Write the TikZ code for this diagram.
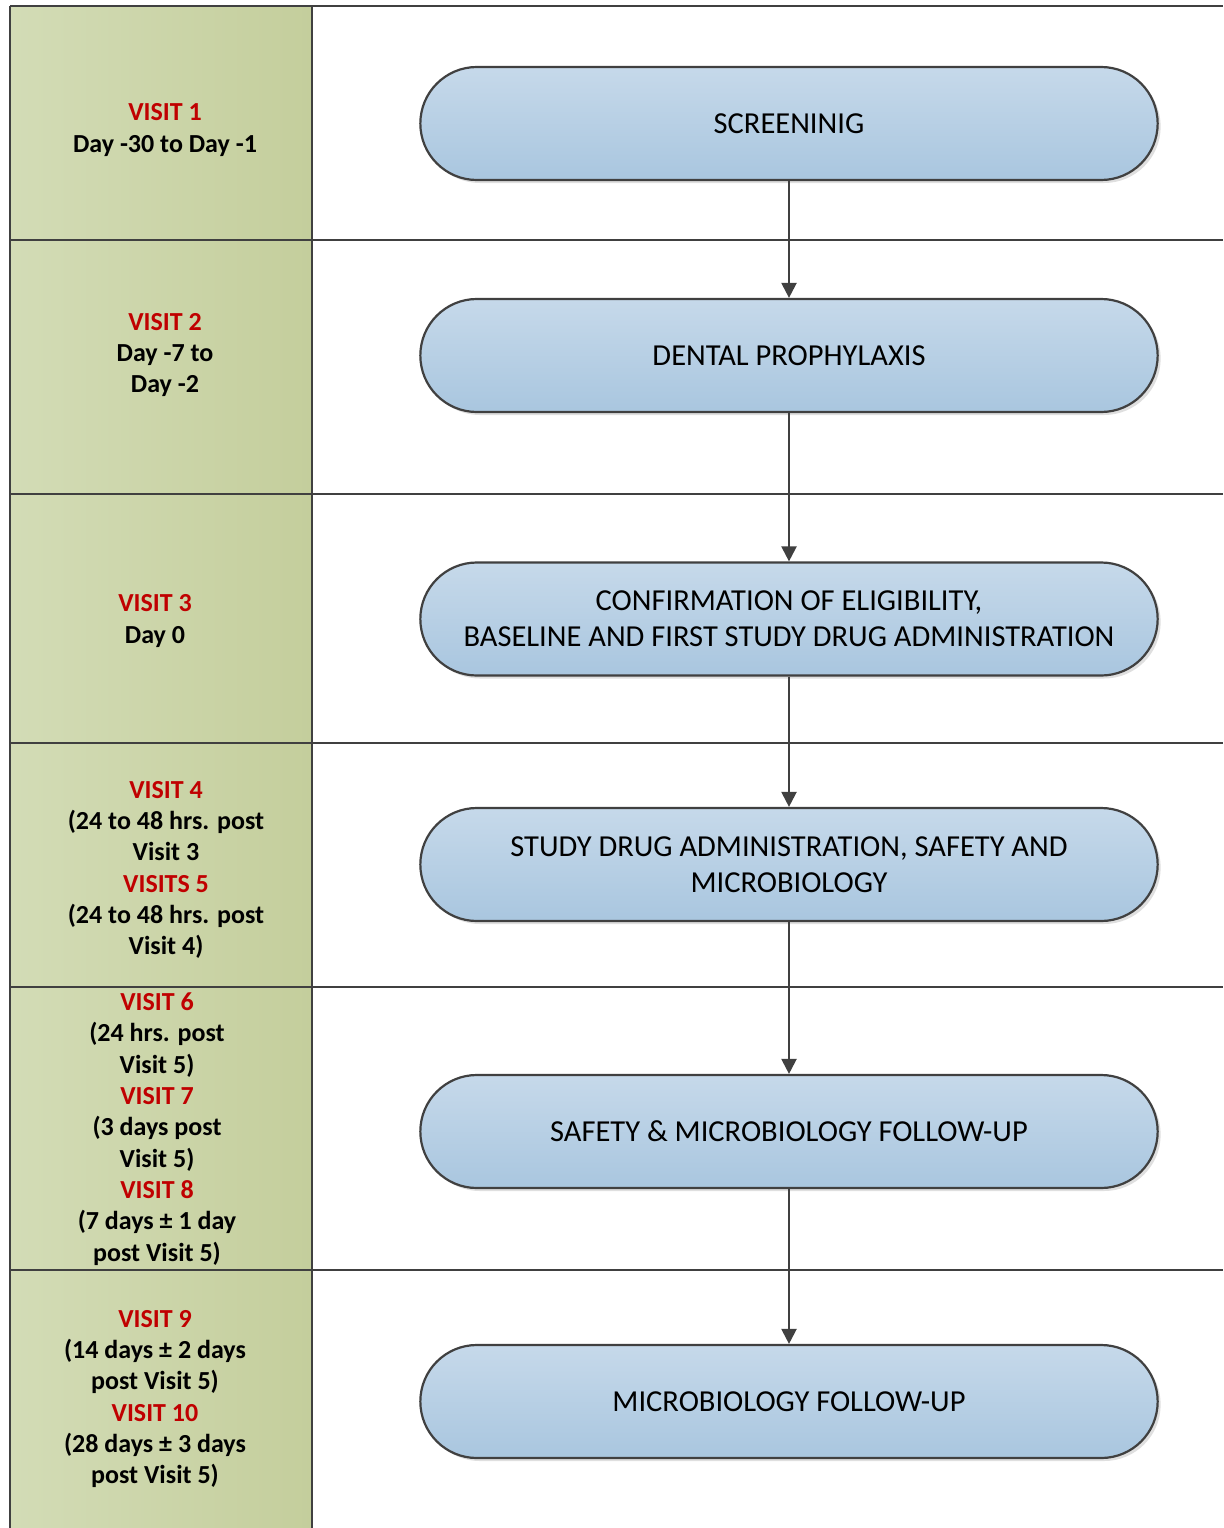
\documentclass[tikz,border=0pt]{standalone}
\usepackage{fontspec}
\setmainfont{Carlito}
\usetikzlibrary{shapes.misc,shadows,arrows.meta}
\definecolor{linec}{HTML}{404040}
\definecolor{visitred}{HTML}{C00000}
\definecolor{colL}{HTML}{D3DCB6}
\definecolor{colR}{HTML}{C4CE9C}
\definecolor{boxT}{HTML}{C6D9EA}
\definecolor{boxB}{HTML}{A9C6DF}
\tikzset{
  stepbox/.style={rounded rectangle, draw=linec, line width=2.2pt,
    minimum width=744, minimum height=113, top color=boxT, bottom color=boxB,
    align=center, text=black, font=\fontsize{30.5}{36}\selectfont,
    drop shadow={shadow xshift=3pt, shadow yshift=-3pt, opacity=0.25, fill=gray}},
  visitlbl/.style={align=center, font=\bfseries\fontsize{26}{31.3}\selectfont, text=black},
  rowline/.style={draw=linec, line width=2.6pt},
  flow/.style={draw=linec, line width=2.2pt, -{Triangle[length=15pt,width=15pt]}}
}
\newcommand{\vr}[1]{\textcolor{visitred}{#1}}
\begin{document}
\begin{tikzpicture}[x=1pt,y=-1pt]
\useasboundingbox (0,0) rectangle (1223,1528);
\fill[white] (0,0) rectangle (1223,1528);
\shade[left color=colL, right color=colR] (10,6) rectangle (312,1528);
% grid lines
\draw[rowline] (10,6) -- (1223,6);
\foreach \yy in {240,494,743,987,1270} \draw[rowline] (10,\yy) -- (1223,\yy);
\draw[rowline] (10,6) -- (10,1528);
\draw[rowline] (312,6) -- (312,1528);
% left labels
\node[visitlbl] (v1) at (165,130) {\vr{VISIT 1}\\Day -30 to Day -1};
\node[visitlbl] (v2) at (165,355) {\vr{VISIT 2}\\Day -7 to\\Day -2};
\node[visitlbl] (v3) at (155,621) {\vr{VISIT 3}\\Day 0};
\node[visitlbl] (v4) at (166,870) {\vr{VISIT 4}\\(24 to 48 hrs. post\\Visit 3\\\vr{VISITS 5}\\(24 to 48 hrs. post\\Visit 4)};
\node[visitlbl] (v5) at (157,1129) {\vr{VISIT 6}\\(24 hrs. post\\Visit 5)\\\vr{VISIT 7}\\(3 days post\\Visit 5)\\\vr{VISIT 8}\\(7 days ± 1 day\\post Visit 5)};
\node[visitlbl] (v6) at (155,1399) {\vr{VISIT 9}\\(14 days ± 2 days\\post Visit 5)\\\vr{VISIT 10}\\(28 days ± 3 days\\post Visit 5)};
% boxes
\node[stepbox] (b1) at (789,123.5) {SCREENINIG};
\node[stepbox] (b2) at (789,355.5) {DENTAL PROPHYLAXIS};
\node[stepbox] (b3) at (789,619) {CONFIRMATION OF ELIGIBILITY,\\BASELINE AND FIRST STUDY DRUG ADMINISTRATION};
\node[stepbox] (b4) at (789,864.5) {STUDY DRUG ADMINISTRATION, SAFETY AND\\MICROBIOLOGY};
\node[stepbox] (b5) at (789,1131.5) {SAFETY \& MICROBIOLOGY FOLLOW-UP};
\node[stepbox] (b6) at (789,1401.5) {MICROBIOLOGY FOLLOW-UP};
% arrows
\draw[flow] (b1.south) -- (b2.north);
\draw[flow] (b2.south) -- (b3.north);
\draw[flow] (b3.south) -- (b4.north);
\draw[flow] (b4.south) -- (b5.north);
\draw[flow] (b5.south) -- (b6.north);
\end{tikzpicture}
\end{document}
